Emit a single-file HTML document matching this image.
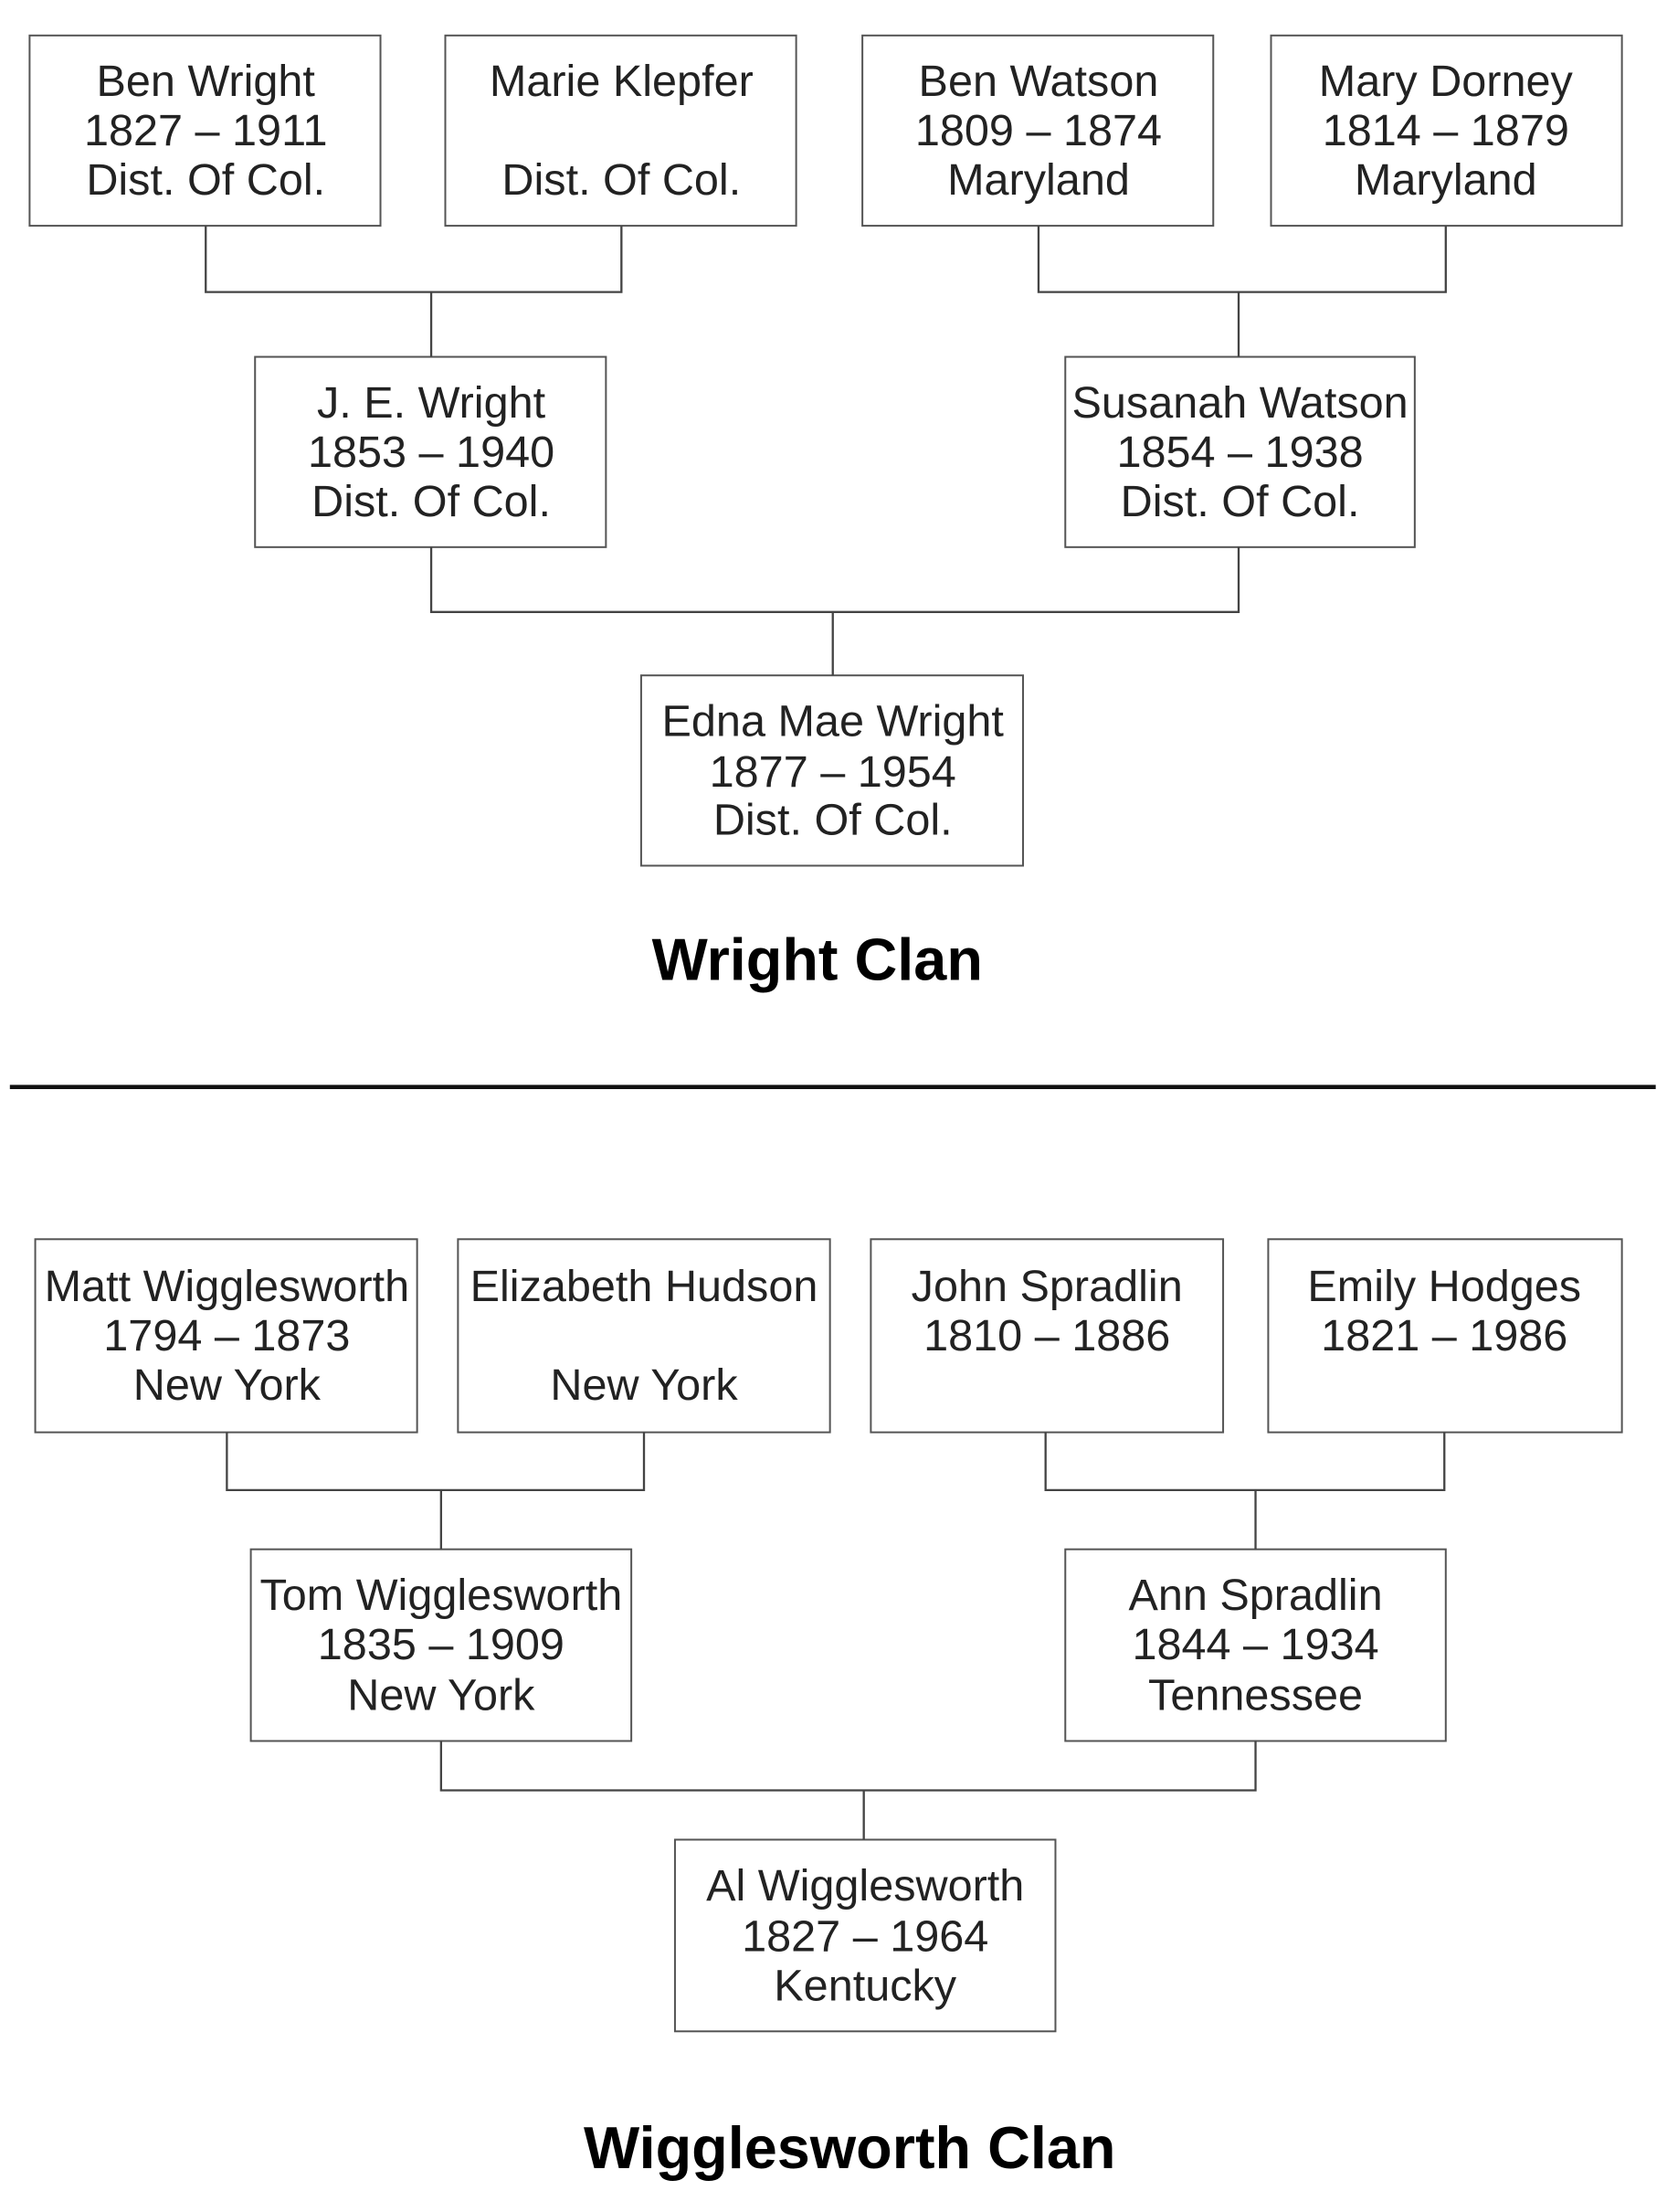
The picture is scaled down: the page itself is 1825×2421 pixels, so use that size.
<!DOCTYPE html>
<html><head><meta charset="utf-8"><style>html,body{margin:0;padding:0;background:#fff}svg{display:block}</style></head><body>
<svg width="1825" height="2421" viewBox="0 0 1183 1569" xmlns="http://www.w3.org/2000/svg" font-family="Liberation Sans, sans-serif">
<rect width="1183" height="1569" fill="#fff"/>
<g fill="#fff" stroke="#555" stroke-width="1.3">
<rect x="21" y="25" width="249" height="135"/>
<rect x="316" y="25" width="249" height="135"/>
<rect x="612" y="25" width="249" height="135"/>
<rect x="902" y="25" width="249" height="135"/>
<rect x="181" y="253" width="249" height="135"/>
<rect x="756" y="253" width="248" height="135"/>
<rect x="455" y="479" width="271" height="135"/>
<rect x="25" y="879" width="271" height="137"/>
<rect x="325" y="879" width="264" height="137"/>
<rect x="618" y="879" width="250" height="137"/>
<rect x="900" y="879" width="251" height="137"/>
<rect x="178" y="1099" width="270" height="136"/>
<rect x="756" y="1099" width="270" height="136"/>
<rect x="479" y="1305" width="270" height="136"/>
</g>
<g fill="none" stroke="#444" stroke-width="1.5">
<path d="M146 160V207H441V160M306 207V253"/>
<path d="M737 160V207H1026V160M879 207V253"/>
<path d="M306 388V434H879V388M591 434V479"/>
<path d="M161 1016V1057H457V1016M313 1057V1099"/>
<path d="M742 1016V1057H1025V1016M891 1057V1099"/>
<path d="M313 1235V1270H891V1235M613 1270V1305"/>
</g>
<line x1="7" y1="771" x2="1175" y2="771" stroke="#111" stroke-width="3"/>
<g font-size="31.5" fill="#222" text-anchor="middle">
<text x="146" y="68">Ben Wright</text><text x="146" y="103">1827 – 1911</text><text x="146" y="138">Dist. Of Col.</text>
<text x="441" y="68">Marie Klepfer</text><text x="441" y="138">Dist. Of Col.</text>
<text x="737" y="68">Ben Watson</text><text x="737" y="103">1809 – 1874</text><text x="737" y="138">Maryland</text>
<text x="1026" y="68">Mary Dorney</text><text x="1026" y="103">1814 – 1879</text><text x="1026" y="138">Maryland</text>
<text x="306" y="296">J. E. Wright</text><text x="306" y="331">1853 – 1940</text><text x="306" y="366">Dist. Of Col.</text>
<text x="880" y="296">Susanah Watson</text><text x="880" y="331">1854 – 1938</text><text x="880" y="366">Dist. Of Col.</text>
<text x="591" y="522">Edna Mae Wright</text><text x="591" y="558">1877 – 1954</text><text x="591" y="592">Dist. Of Col.</text>
<text x="161" y="923">Matt Wigglesworth</text><text x="161" y="958">1794 – 1873</text><text x="161" y="993">New York</text>
<text x="457" y="923">Elizabeth Hudson</text><text x="457" y="993">New York</text>
<text x="743" y="923">John Spradlin</text><text x="743" y="958">1810 – 1886</text>
<text x="1025" y="923">Emily Hodges</text><text x="1025" y="958">1821 – 1986</text>
<text x="313" y="1142">Tom Wigglesworth</text><text x="313" y="1177">1835 – 1909</text><text x="313" y="1213">New York</text>
<text x="891" y="1142">Ann Spradlin</text><text x="891" y="1177">1844 – 1934</text><text x="891" y="1213">Tennessee</text>
<text x="614" y="1348">Al Wigglesworth</text><text x="614" y="1384">1827 – 1964</text><text x="614" y="1419">Kentucky</text>
</g>
<g font-size="42" font-weight="bold" fill="#000" text-anchor="middle">
<text x="580" y="695">Wright Clan</text>
<text x="603" y="1538">Wigglesworth Clan</text>
</g>
</svg>
</body></html>
